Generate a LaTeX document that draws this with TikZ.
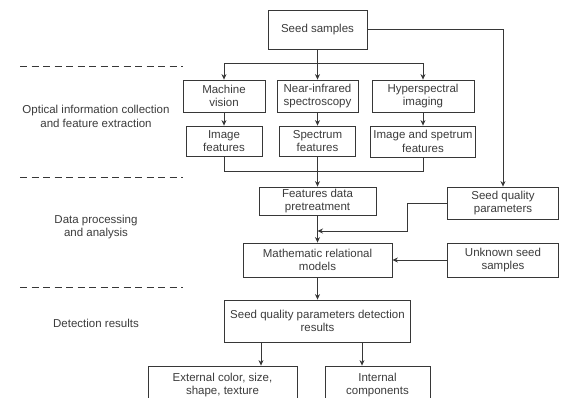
\documentclass[tikz,border=0pt]{standalone}
\usepackage{fontspec}
\setmainfont{Liberation Sans}
\usetikzlibrary{arrows.meta}
\definecolor{ln}{RGB}{55,55,55}
\definecolor{tx}{RGB}{60,60,60}
\begin{document}
\begin{tikzpicture}[x=1pt,y=-1pt,
  box/.style={draw=ln,line width=0.8pt,rectangle,inner sep=0pt,align=center,
    text=tx,font=\fontsize{11.5}{13.5}\selectfont},
  lbl/.style={align=center,text=tx,font=\fontsize{11.5}{13.5}\selectfont},
  arr/.style={draw=ln,line width=0.8pt,-{Stealth[length=5.5pt,width=5pt]}},
  ln/.style={draw=ln,line width=0.8pt},
  dashline/.style={draw=ln,line width=0.8pt,dash pattern=on 7pt off 4.5pt}]
\clip (0,0) rectangle (562,398);
\fill[white] (0,0) rectangle (562,398);
% nodes
\node[box,minimum width=99pt,minimum height=39pt] (seed) at (317.5,29.5) {Seed samples};
\node[box,minimum width=82pt,minimum height=32pt] (mv) at (224,96) {Machine\\vision};
\node[box,minimum width=81pt,minimum height=32pt] (nir) at (317.5,96) {Near-infrared\\spectroscopy};
\node[box,minimum width=102pt,minimum height=32pt] (hsi) at (423,96) {Hyperspectral\\imaging};
\node[box,minimum width=76pt,minimum height=30pt] (imf) at (224,141) {Image\\features};
\node[box,minimum width=76pt,minimum height=30pt] (spf) at (317.5,141) {Spectrum\\features};
\node[box,minimum width=105pt,minimum height=31pt] (isf) at (423,141.5) {Image and spetrum\\features};
\node[box,minimum width=117pt,minimum height=28pt] (fdp) at (317.5,201) {Features data\\pretreatment};
\node[box,minimum width=111pt,minimum height=32pt] (sqp) at (503,203) {Seed quality\\parameters};
\node[box,minimum width=149pt,minimum height=34pt] (mrm) at (317.5,260) {Mathematic relational\\models};
\node[box,minimum width=111pt,minimum height=34pt] (usp) at (503,260) {Unknown seed\\samples};
\node[box,minimum width=186pt,minimum height=42pt] (sqd) at (317.5,321) {Seed quality parameters detection\\results};
\node[box,minimum width=149pt,minimum height=38pt] (ext) at (222.5,385) {External color, size,\\shape, texture};
\node[box,minimum width=105pt,minimum height=38pt] (int) at (377.5,385) {Internal\\components};
% left labels
\node[lbl] (l1) at (96,116.5) {Optical information collection\\and feature extraction};
\node[lbl] (l2) at (96,227) {Data processing\\and analysis};
\node[lbl] (l3) at (96,323) {Detection results};
% dashed separators
\draw[dashline] (20,66) -- (183,66);
\draw[dashline] (20,177) -- (183,177);
\draw[dashline] (20,287) -- (183,287);
% connectors
\coordinate (split) at (317.5,63);
\draw[ln] (seed.south) -- (split);
\draw[arr] (split) -| (mv.north);
\draw[arr] (split) -- (nir.north);
\draw[arr] (split) -| (hsi.north);
\draw[arr] (mv) -- (imf);
\draw[arr] (nir) -- (spf);
\draw[arr] (hsi) -- (isf);
\coordinate (merge) at (317.5,171);
\draw[ln] (imf.south) |- (merge);
\draw[ln] (isf.south) |- (merge);
\draw[ln] (spf.south) -- (merge);
\draw[arr] (merge) -- (fdp.north);
\draw[arr] (seed.east) -| (sqp.north);
\coordinate (bend) at (407,231);
\coordinate (join) at (317.5,231);
\draw[arr] (sqp.west) -| (bend) -- (join);
\draw[arr] (fdp.south) -- (mrm.north);
\draw[arr] (usp.west) -- (mrm.east);
\draw[arr] (mrm.south) -- (sqd.north);
\coordinate (c1) at (261,0);
\coordinate (c2) at (362,0);
\draw[arr] (sqd.south -| c1) -- (ext.north -| c1);
\draw[arr] (sqd.south -| c2) -- (int.north -| c2);
\end{tikzpicture}
\end{document}
